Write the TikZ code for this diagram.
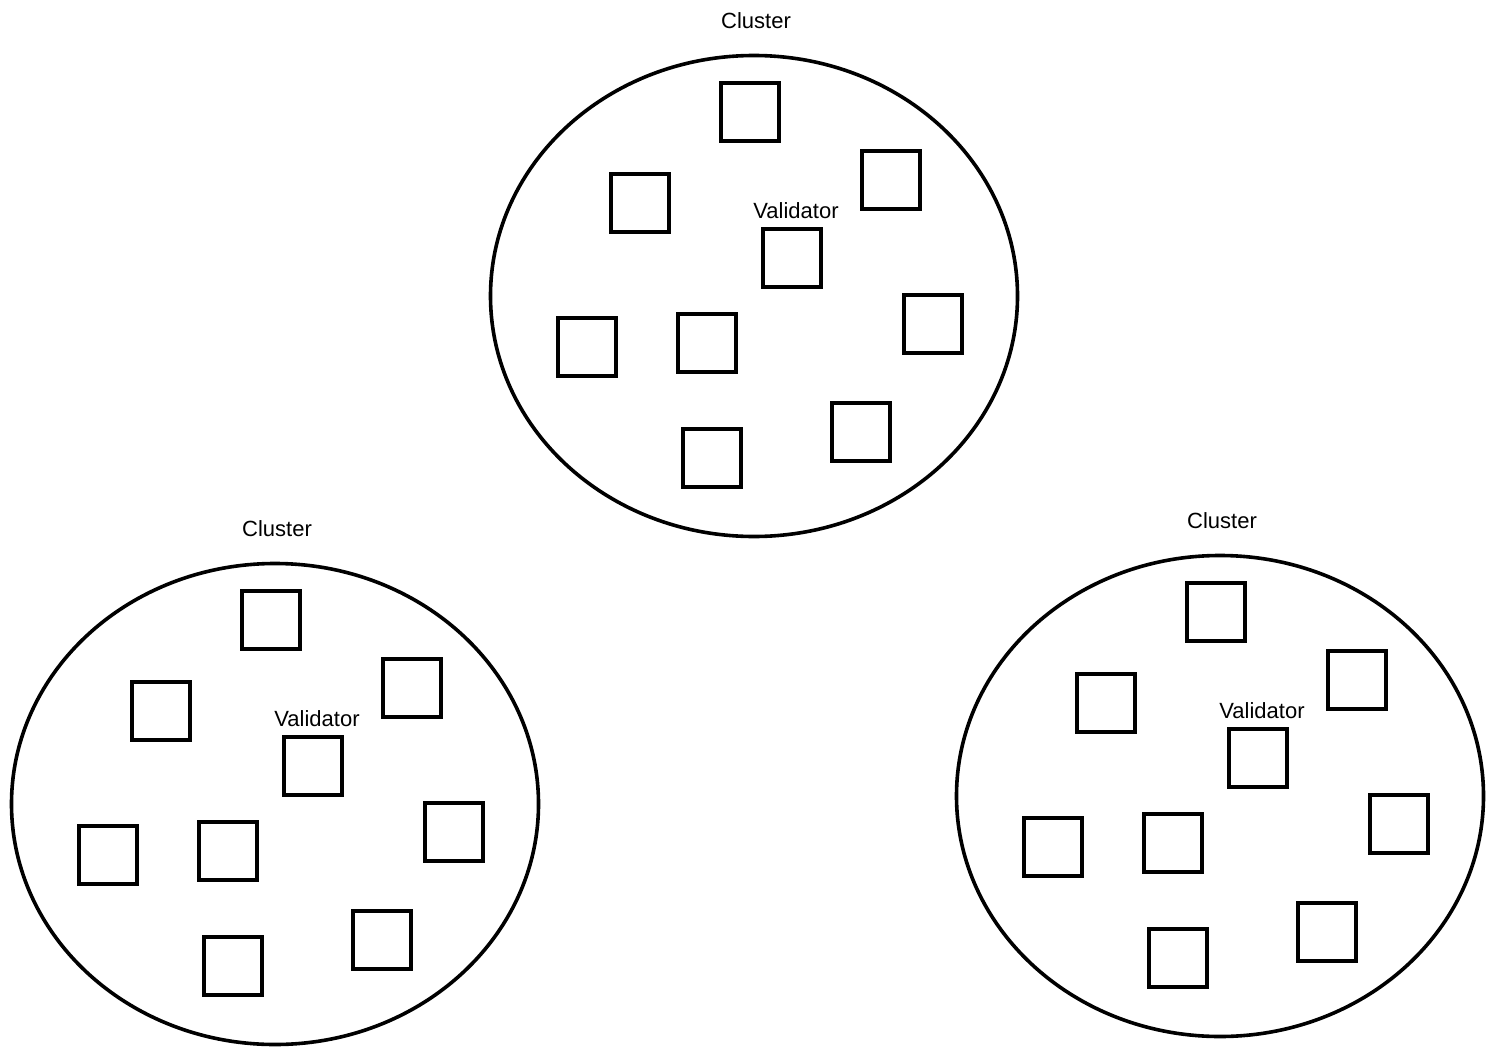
\documentclass[tikz,border=0pt]{standalone}
\usepackage{fontspec}
\setmainfont{Liberation Sans}
\usetikzlibrary{shapes.geometric}
\begin{document}
\begin{tikzpicture}[x=1pt,y=-1pt,
  box/.style={draw=black,line width=3.8pt,minimum size=58pt,inner sep=0pt,fill=white},
  ring/.style={draw=black,line width=3.6pt},
  lbl/.style={font=\fontsize{22}{24}\selectfont,inner sep=0pt},
  cluster/.pic={
    \node[ring,ellipse,minimum width=527pt,minimum height=481pt,inner sep=0pt] (-e) at (754,296) {};
    \node[lbl] (-title) at (756,21) {Cluster};
    \node[box] (-b1) at (750,112) {};
    \node[box] (-b2) at (640,203) {};
    \node[box] (-b3) at (891,180) {};
    \node[box] (-val) at (792,258) {};
    \node[lbl] (-vlabel) at (796,211) {Validator};
    \node[box] (-b5) at (587,347) {};
    \node[box] (-b6) at (707,343) {};
    \node[box] (-b7) at (933,324) {};
    \node[box] (-b8) at (712,458) {};
    \node[box] (-b9) at (861,432) {};
  }]
\useasboundingbox (0,0) rectangle (1494,1057);
\pic (top) at (0,0) {cluster};
\pic (left) at (-479,508) {cluster};
\pic (right) at (466,500) {cluster};
\end{tikzpicture}
\end{document}
